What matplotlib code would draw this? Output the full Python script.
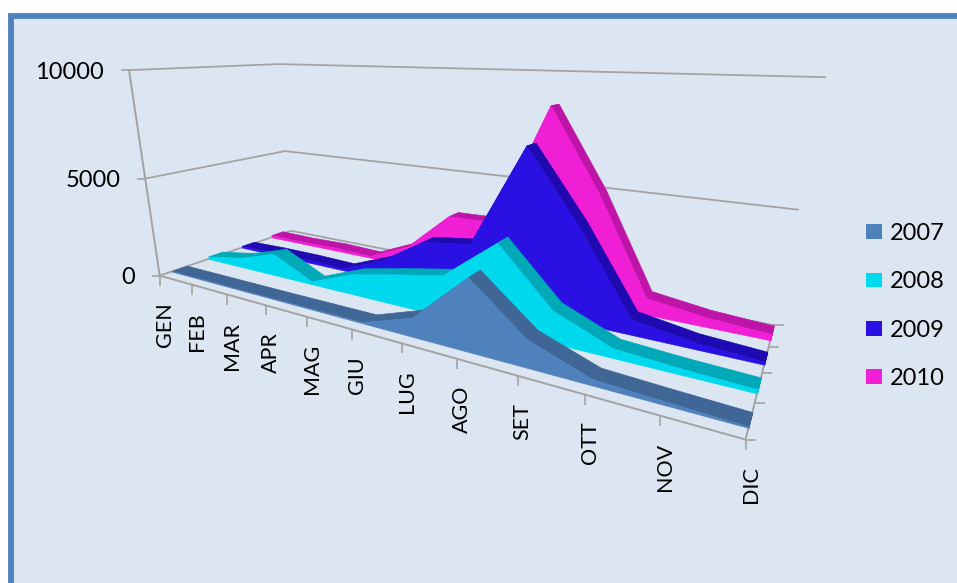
import numpy as np
import matplotlib
matplotlib.use('Agg')
import matplotlib.pyplot as plt
from matplotlib.markers import TICKDOWN, TICKLEFT, TICKRIGHT
from matplotlib.patches import Patch, Rectangle
from mpl_toolkits.mplot3d import proj3d
from mpl_toolkits.mplot3d.art3d import Poly3DCollection

plt.rcParams['font.family'] = ['Lato', 'DejaVu Sans']

W, H = 957, 583

mesi = ['GEN', 'FEB', 'MAR', 'APR', 'MAG', 'GIU', 'LUG', 'AGO', 'SET', 'OTT', 'NOV', 'DIC']
anni = ['2007', '2008', '2009', '2010']
v2007 = [40, 40, 40, 40, 50, 60, 850, 3050, 1130, 250, 140, 50]
v2008 = [150, 500, 1150, 150, 1000, 1470, 1900, 3750, 1400, 400, 250, 160]
v2009 = [100, 150, 150, 100, 960, 2350, 2650, 7250, 4200, 680, 280, 120]
v2010 = [150, 120, 170, 100, 1060, 3050, 3100, 8650, 5050, 770, 430, 270]
serie = [v2007, v2008, v2009, v2010]
z_ticks = [0, 5000, 10000]

col_fronte = ['#4F81BD', '#00D8EE', '#2A10E2', '#F01FD5']
col_sopra = ['#3F6695', '#00A8B8', '#1E0AB0', '#BE15A8']
griglia = '#A3A3A3'

# where the corners of the plot box and the axis ticks fall on the canvas (month, depth, value, px, py)
riferimenti = np.array([
    (0, 0, 0, 163, 274), (0, 0, 5000, 143, 178), (0, 0, 10000, 124, 71),
    (0, 4, 0, 285, 232), (0, 4, 5000, 285, 151), (0, 4, 10000, 285, 64),
    (11, 4, 0, 775, 325), (11, 4, 5000, 798, 209), (11, 4, 10000, 823, 77),
    (11, 0, 0, 747, 441),
    (1, 0, 0, 194, 284), (2, 0, 0, 230, 295), (3, 0, 0, 266, 305), (4, 0, 0, 308, 317),
    (5, 0, 0, 352, 330), (6, 0, 0, 402, 344), (7, 0, 0, 456, 359), (8, 0, 0, 518, 376),
    (9, 0, 0, 584, 395), (10, 0, 0, 659, 416),
    (11, 1, 0, 753, 403), (11, 2, 0, 763, 372), (11, 3, 0, 770, 347),
], float)


def camera(ax):
    # least squares pinhole camera, world coords -> display pixels -> 2d view coords
    scala = np.diag([1 / 11, 1 / 4, 1 / 10000, 1])
    righe, noti = [], []
    for x, y, z, u, v in riferimenti:
        p = [x / 11, y / 4, z / 10000, 1]
        v = H - v
        righe.append(p + [0, 0, 0, 0] + [-u * c for c in p[:3]])
        righe.append([0, 0, 0, 0] + p + [-v * c for c in p[:3]])
        noti += [u, v]
    sol = np.linalg.lstsq(np.array(righe), np.array(noti), rcond=None)[0]
    C = np.append(sol, 1).reshape(3, 4) @ scala
    C = ax.transData.inverted().get_matrix() @ C
    # third row only keeps the matrix invertible and the depth negative (mplot3d masks the rest)
    return np.array([C[0], C[1], -0.5 * C[2] + [0, 1e-3, 0, 0], C[2]])


def scrivi(ax, x, y, z, testo, dx, dy, **kw):
    # 2d text anchored on a projected point, shifted in pixels
    X, Y, _ = proj3d.proj_transform(x, y, z, M)
    ax.annotate(testo, xy=(X, Y), xytext=(dx, dy), textcoords='offset pixels', color='black',
                annotation_clip=False, zorder=500, **kw)


fig = plt.figure(figsize=(W / 100, H / 100), dpi=100, facecolor='white')
fig.add_artist(Rectangle((10.5 / W, -0.05), 1.05, 1 + 0.05 - 16 / H, transform=fig.transFigure,
                         facecolor='#DCE6F2', edgecolor='#4F81BD', linewidth=4.2, zorder=-1))

# square axes as wide as the figure, so nothing gets clipped
ax = fig.add_axes([0, (H - W) / 2 / H, 1, W / H], projection='3d', computed_zorder=False)
ax.set_axis_off()
ax.patch.set_visible(False)
M = camera(ax)
ax.get_proj = lambda: M
ax.set_xlim(0, 11)
ax.set_ylim(0, 4)
ax.set_zlim(0, 10000)
ax.set_xticks([])
ax.set_yticks([])
ax.set_zticks([])

# back walls and floor edges
for z in z_ticks:
    ax.plot([0, 0, 11], [0, 4, 4], [z, z, z], color=griglia, lw=1.3, zorder=1)
ax.plot([0, 0], [0, 0], [0, 10000], color=griglia, lw=1.4, zorder=1)
ax.plot([0, 11, 11], [0, 0, 4], [0, 0, 0], color=griglia, lw=1.4, zorder=1)

# tick marks
mx = np.arange(12)
ax.plot(mx, 0 * mx, 0 * mx, ls='none', marker=TICKDOWN, ms=7.5, mew=1.2, color=griglia, zorder=1)
zt = np.array(z_ticks)
ax.plot(0 * zt, 0 * zt, zt, ls='none', marker=TICKLEFT, ms=6, mew=1.2, color=griglia, zorder=1)
dy = np.arange(5)
ax.plot(0 * dy + 11, dy, 0 * dy, ls='none', marker=TICKRIGHT, ms=7.5, mew=1.2, color=griglia, zorder=1)

# series from back to front; each one is a ribbon on top and a flat face in front
ordine = 2
for k in range(3, -1, -1):
    v = serie[k]
    y0, y1 = k + 0.3, k + 0.7
    facce = []
    for m in range(11):
        facce.append([(m, y0, v[m]), (m, y1, v[m]), (m + 1, y1, v[m + 1]), (m + 1, y0, v[m + 1])])
    facce.append([(11, y0, 0), (11, y1, 0), (11, y1, v[11]), (11, y0, v[11])])
    for f in facce:
        ax.add_collection3d(Poly3DCollection([f], facecolor=col_sopra[k], edgecolor=col_sopra[k],
                                             linewidth=0.4, zorder=ordine), autolim=False)
        ordine += 1
    fronte = [(m, y0, v[m]) for m in range(12)] + [(11, y0, 0), (0, y0, 0)]
    ax.add_collection3d(Poly3DCollection([fronte], facecolor=col_fronte[k], edgecolor=col_fronte[k],
                                         linewidth=0.4, zorder=ordine), autolim=False)
    ordine += 1

# axis labels
for m, nome in enumerate(mesi):
    scrivi(ax, m, 0, 0, nome, 5, -27, rotation=90, ha='center', va='top', fontsize=15.5)
for z in z_ticks:
    scrivi(ax, 0, 0, z, str(z), -25, -2, ha='right', va='center', fontsize=17)

maniglie = [Patch(facecolor=c, edgecolor='none', label=a) for c, a in zip(col_fronte, anni)]
fig.legend(handles=maniglie, loc='upper left', bbox_to_anchor=(866 / W, 1 - 223 / H), frameon=False,
           fontsize=17, borderpad=0, borderaxespad=0, handlelength=0.68, handleheight=0.58,
           handletextpad=0.35, labelspacing=1.155, labelcolor='black')

fig.savefig('out.png', dpi=100)
